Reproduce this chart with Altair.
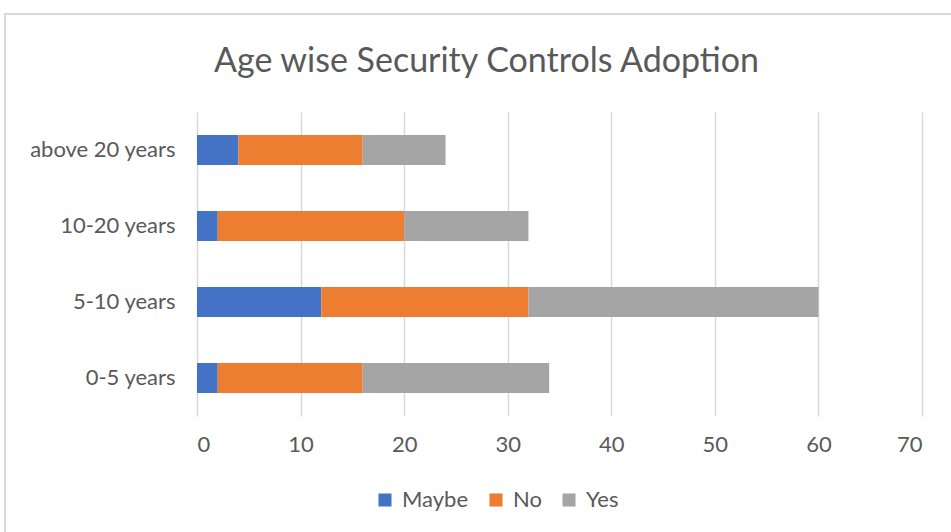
import altair as alt
import pandas as pd

categories = ["above 20 years", "10-20 years", "5-10 years", "0-5 years"]
series = ["Maybe", "No", "Yes"]
maybe = [4, 2, 12, 2]
no = [12, 18, 20, 14]
yes = [8, 12, 28, 18]
colors = ["#4472C4", "#ED7D31", "#A5A5A5"]

rows = []
for i, c in enumerate(categories):
    for j, (s, vals) in enumerate(zip(series, [maybe, no, yes])):
        rows.append({"age": c, "resp": s, "value": vals[i], "ord": j})
df = pd.DataFrame(rows)

FONT = "Lato"
GREY = "#595959"
FS = 22

bars = alt.Chart(df).mark_bar(size=30).encode(
    x=alt.X("value:Q", stack="zero",
            scale=alt.Scale(domain=[0, 70], nice=False),
            axis=alt.Axis(values=[0, 10, 20, 30, 40, 50, 60, 70], title=None,
                          grid=True, gridColor="#D9D9D9", gridWidth=1.5,
                          domain=False, ticks=False, labelFontSize=FS,
                          labelColor=GREY, labelFont=FONT, labelPadding=18)),
    y=alt.Y("age:N", sort=categories, title=None,
            scale=alt.Scale(paddingInner=0.6, paddingOuter=0.3),
            axis=alt.Axis(domain=False, ticks=False, labelFontSize=FS,
                          labelColor=GREY, labelFont=FONT, labelPadding=22)),
    color=alt.Color("resp:N", scale=alt.Scale(domain=series, range=colors),
                    legend=alt.Legend(title=None, orient="none", direction="horizontal",
                                      legendX=177, legendY=377, symbolType="square",
                                      symbolSize=170, symbolStrokeWidth=0,
                                      labelFontSize=FS, labelColor=GREY, labelFont=FONT,
                                      columnPadding=16, labelOffset=6)),
    order=alt.Order("ord:Q"),
)

border = alt.Chart(df).mark_rect(fill=None, stroke="#D9D9D9", strokeWidth=1.5).encode(
    x=alt.value(-192), x2=alt.value(770), y=alt.value(-98), y2=alt.value(430)
)

chart = alt.layer(border, bars).properties(
    width=725, height=304,
    title=alt.TitleParams("Age wise Security Controls Adoption", fontSize=34,
                          font=FONT, fontWeight="normal", color=GREY,
                          anchor="middle", frame="group", dx=-73, offset=-66),
    autosize=alt.AutoSizeParams(type="none"),
    padding={"left": 197, "top": 112, "right": 29, "bottom": 116},
).configure(background="white").configure_view(strokeWidth=0)

chart.save("out.html", embed_options={"renderer": "svg", "actions": False})
